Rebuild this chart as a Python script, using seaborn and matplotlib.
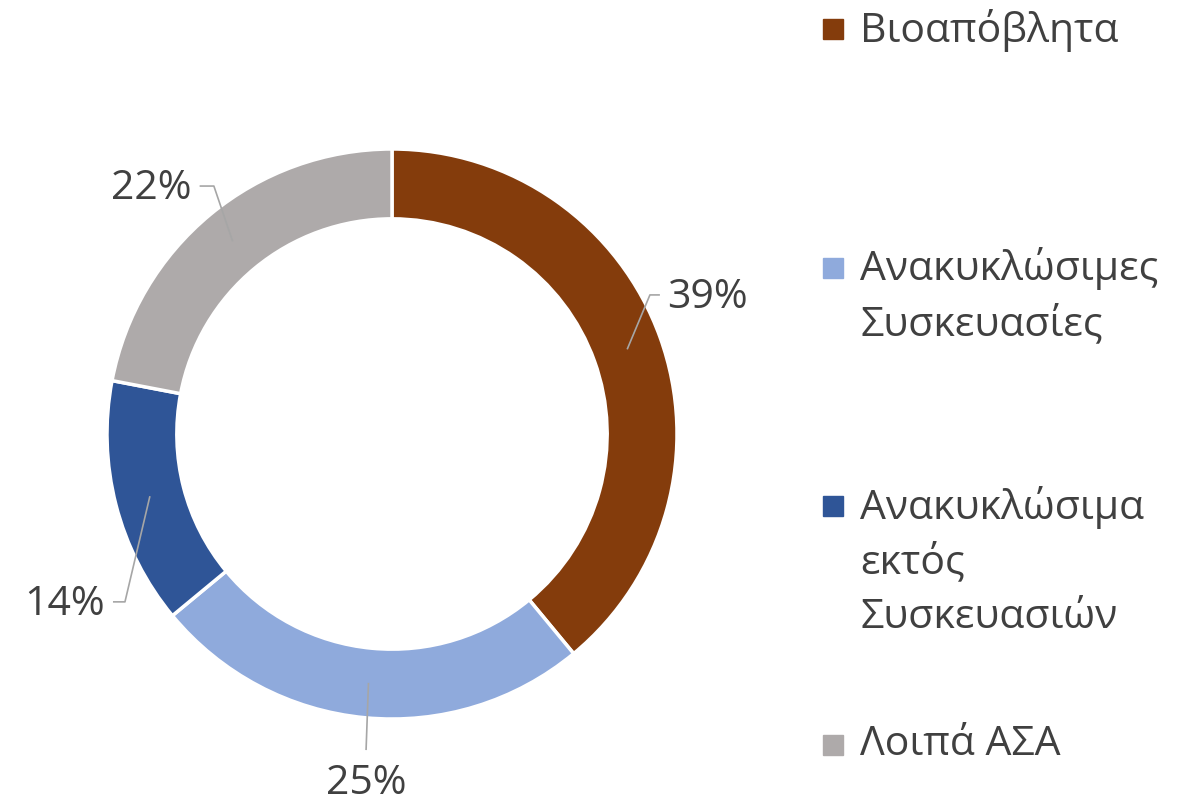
import numpy as np
import matplotlib.pyplot as plt
import seaborn as sns
from matplotlib.patches import Rectangle

categories = ["Βιοαπόβλητα", "Ανακυκλώσιμες\nΣυσκευασίες",
              "Ανακυκλώσιμα\nεκτός\nΣυσκευασιών", "Λοιπά ΑΣΑ"]
shares = [39, 25, 14, 22]
pct_labels = ["39%", "25%", "14%", "22%"]
colors = ["#843C0C", "#8FAADC", "#2F5597", "#AEAAAA"]

sns.set_theme(style="white")
plt.rcParams["font.family"] = ["Open Sans", "DejaVu Sans"]

W, H = 1194, 803
fig = plt.figure(figsize=(W / 100, H / 100), dpi=100)

# donut axes: centre (392, 435) px, radius 285 px
cx, cy, R = 392, 435, 285
ax = fig.add_axes([(cx - R) / W, (H - cy - R) / H, 2 * R / W, 2 * R / H])
wedges, _ = ax.pie(shares, colors=colors, startangle=90, counterclock=False,
                   radius=1.0,
                   wedgeprops=dict(width=0.245, edgecolor="white", linewidth=2.5))
ax.set_xlim(-1, 1)
ax.set_ylim(-1, 1)
ax.set_aspect("equal")
ax.axis("off")

# data label placement (elbow, stub length, text anchor)
elbows = [(0.905, 0.488), (-0.091, -1.109), (-0.937, -0.589), (-0.625, 0.870)]
stubs = [0.035, 0.0, -0.042, -0.05]
text_pos = [(0.965, 0.481), (-0.091, -1.225), (-1.007, -0.596), (-0.702, 0.863)]
aligns = ["left", "center", "right", "right"]
line_col = "#A6A6A6"
txt_col = "#404040"

for w, lab, (ex, ey), st, (tx, ty), ha in zip(wedges, pct_labels, elbows, stubs,
                                             text_pos, aligns):
    mid = np.deg2rad((w.theta1 + w.theta2) / 2)
    sx, sy = 0.877 * np.cos(mid), 0.877 * np.sin(mid)
    ax.plot([sx, ex, ex + st], [sy, ey, ey], color=line_col, lw=1.2,
            clip_on=False, solid_capstyle="butt")
    ax.text(tx, ty, lab, ha=ha, va="center", fontsize=29.5, color=txt_col,
            clip_on=False)

# legend, drawn by hand so the marker sits on the first text line
for i, (cat, col) in enumerate(zip(categories, colors)):
    y_px = 30 + i * 238.5
    fig.patches.append(Rectangle((823 / W, 1 - (y_px + 10) / H), 20 / W, 20 / H,
                                 transform=fig.transFigure, color=col))
    fig.text(860 / W, 1 - (y_px - 21) / H, cat, ha="left", va="top",
             fontsize=29.5, color=txt_col, linespacing=1.45)

fig.savefig("out.png", dpi=100)
